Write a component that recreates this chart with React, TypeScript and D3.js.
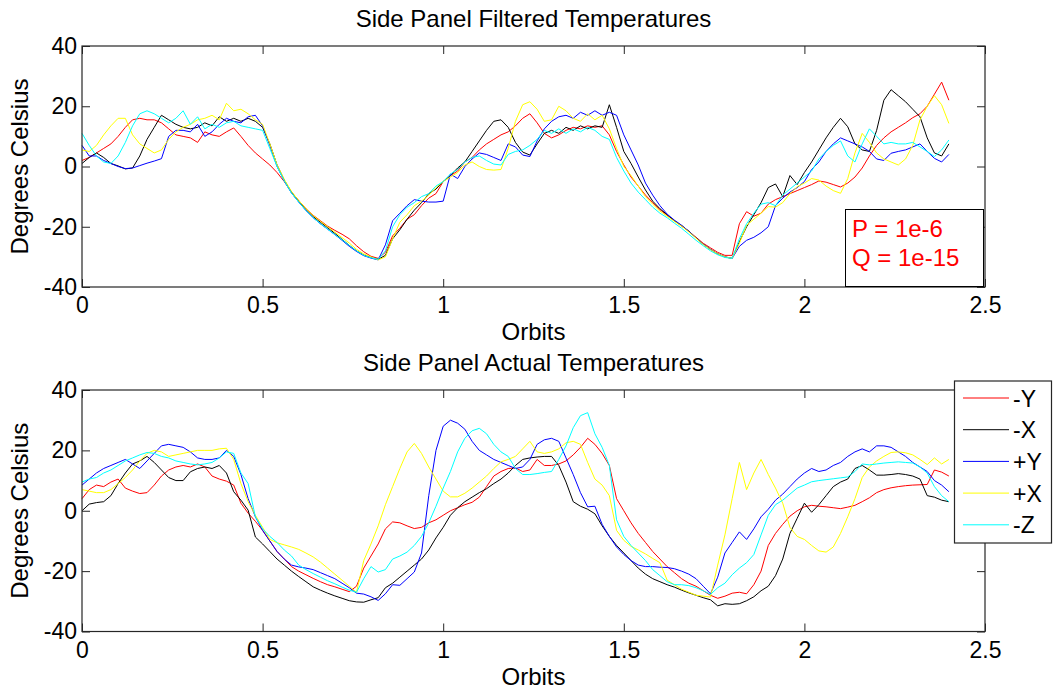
import React, { useEffect, useRef } from "react";
import * as d3 from "d3";

// orbit sample positions shared by every series (0 .. 2.4, step 0.02)
const orbits = d3.range(121).map((i) => +(i * 0.02).toFixed(2));

const seriesNames = ["-Y", "-X", "+Y", "+X", "-Z"];
const seriesColors = ["#ff0000", "#000000", "#0000ff", "#ffff00", "#00ffff"];
const xTicks = [0, 0.5, 1, 1.5, 2, 2.5];
const yTicks = [-40, -20, 0, 20, 40];

// --- top panel: filtered temperatures ---
const filteredNegY = [
  2, 3, 4.5, 6, 7.5, 10, 13, 15.5, 16, 15.5,
  15.5, 14.5, 12.5, 10.5, 10, 9.5, 8, 11.5, 10.5, 10,
  11.5, 12.8, 10, 7, 4.5, 2.5, 0.5, -2, -5, -8.5,
  -11.3, -14, -16.2, -18, -19.8, -21.2, -22.5, -24, -26.3, -28.3,
  -29.8, -30.5, -28.5, -23, -20.5, -17.5, -16, -13, -10.5, -9,
  -5, -3, -1.5, 1.5, 3, 5.5, 7.5, 9, 10.5, 11.5,
  13.5, 16, 17.5, 14.5, 11, 9.5, 10.5, 12, 13, 12.5,
  13.5, 13, 13.5, 10.5, 5, 0.5, -3.5, -6.5, -9.5, -12,
  -14.3, -16.2, -18, -19.8, -21.5, -23.5, -25.5, -27, -28.5, -29.5,
  -29.5, -19, -15, -16.5, -15.5, -12.5, -11, -10, -9, -8,
  -7, -6, -4.8, -5.2, -6, -6.8, -5.5, -3.5, -0.5, 3.5,
  7, 9.5, 11.5, 13, 14.5, 16.2, 17.5, 20, 24, 28,
  22,
];
const filteredNegX = [
  1, 3, 4.5, 3, 1, 0.2, -0.8, -0.5, 3.5, 9,
  13, 17, 15.5, 14, 13, 12.5, 13, 14.5, 13.5, 16.5,
  15, 16, 15, 16, 15, 13, 7.5, 0.5, -4.5, -8.5,
  -11.5, -14.3, -16.6, -18.5, -20.3, -22.2, -24.2, -26.2, -28, -29.4,
  -30.2, -30.8, -29.5, -24, -21, -17.5, -14.5, -12, -9, -7.5,
  -5, -3, -0.5, 1.5, 5, 8.5, 12, 15, 15.5, 13,
  8, 4.8, 3.8, 7.5, 11, 12, 11, 13, 12, 13.5,
  12.5, 13.5, 13, 20.5, 13, 5, 1, -3.5, -7.8, -11.5,
  -14, -16, -18, -19.6, -21.5, -23.7, -25.8, -27.5, -29, -30,
  -30.5, -25, -20, -16, -12, -7, -5.8, -10, -3, -6,
  -2, 1.5, 5.5, 9.5, 13, 16, 13.2, 7.5, 5.5, 5,
  12, 22, 25.5, 23.5, 21.5, 19, 16.5, 9.5, 4.5, 3.5,
  7.5,
];
const filteredPosY = [
  7, 3.5, 3.5, 2, 1, 0, -0.7, -0.5, 0.3, 1.1,
  1.8, 2.6, 10, 12, 12, 11.5, 14, 10, 11.5, 14,
  16, 15, 14.5, 16.5, 17, 13.5, 7, 0, -4.8, -8.8,
  -11.8, -14.6, -17, -19, -20.8, -22.6, -24.5, -26.5, -28.2, -29.6,
  -30.4, -31, -26, -18, -15.5, -13, -11, -11.5, -11.8, -11.8,
  -11.5, -2.5, -4, 0, 2.5, 4.5, 4, 3, 2, 7.5,
  6.5, 3.8, 3.3, 8.5, 12.5, 15, 16.5, 17, 16, 18,
  17, 18.5, 17, 18, 17, 10.5, 5.5, 0.5, -5.5, -9.5,
  -13, -15.8, -17.8, -19.5, -21.5, -23.7, -25.8, -27.5, -29, -30,
  -30.5, -26.5, -24.5, -23.5, -22, -20, -13, -10.5, -8.5, -7,
  -5, -1, 1.5, 5, 7.5, 9.5, 8.5, 7.5, 6.5, 5,
  2.5, 2, 4.4, 5, 5.5, 6.5, 7.5, 5, 2.7, 1.5,
  4,
];
const filteredPosX = [
  5.5, 5, 7, 10.5, 13.5, 16, 16, 10.5, 7.5, 6,
  4.5, 5.5, 9, 11.5, 13, 14, 15.5, 16, 17, 15.5,
  21, 18.5, 19, 17.5, 15.5, 14, 7.5, 0.5, -4.3, -8.3,
  -11.3, -14, -16.3, -18.2, -20, -21.8, -23.6, -25.4, -27.5, -29,
  -30, -31, -30, -24, -18.5, -16, -13, -11.5, -9.5, -7,
  -5, -3.5, -2, 0.5, 1.5, 0, -1, -1.2, -1, 6,
  15, 20.5, 21.5, 19, 15, 15.5, 20, 18.5, 16, 15,
  17.5, 15.5, 17, 12.5, 6, 0, -3, -6.5, -10, -12.5,
  -14.8, -16.5, -18.2, -19.8, -21.7, -23.8, -25.9, -27.6, -29, -30,
  -30.5, -25.5, -19.5, -17.5, -15.5, -13.3, -13.5, -12, -9, -6.7,
  -5.5, -4, -4.5, -6.5, -8, -8.9, -4, 4.5, 11, 8,
  4.5, 2.5, 1.5, 0.5, 2.5, 7, 15.5, 20, 23.5, 20.5,
  14.3,
];
const filteredNegZ = [
  11, 7, 3.5, 1.5, 1, 3.5, 8, 13.5, 17.5, 18.5,
  17.5, 16, 14.5, 16, 18.5, 14, 16.5, 12.5, 14, 13,
  14.5, 15, 13.5, 13, 12.5, 12, 6, 0, -4.8, -8.8,
  -11.8, -14.6, -17, -19, -20.8, -22.6, -24.3, -26.2, -28, -29.5,
  -30.3, -30.8, -28, -20, -16, -13.5, -12, -10, -9, -6.5,
  -5, -2.5, -1, 1.5, 3, 3.5, 2, 0.8, 0.5, 4,
  5, 5.5, 7, 9, 12, 11, 12.5, 11, 12.5, 11.5,
  13, 12, 10, 9, 3, -1.5, -5.5, -8.5, -11, -13.5,
  -15.5, -17, -18.8, -20.5, -22.5, -24.5, -26.3, -28, -29.3, -30.2,
  -30.5, -24, -19, -15.5, -12.5, -12, -13, -9.5, -7.5, -5.5,
  -3.5, -1.5, 2.5, 5, 7, 8.5, 3.5, 1.5, 7.5, 12.5,
  10, 7.5, 8, 7.5, 7.5, 8, 6.5, 5, 3.3, 5.5,
  8.8,
];

// --- bottom panel: actual temperatures ---
const actualNegY = [
  4, 7, 8.5, 8, 9.5, 10.5, 7.5, 6.5, 5.7, 6,
  8.5, 11.5, 13.5, 14.5, 15, 14.5, 15.5, 14.5, 11.5, 10.5,
  9.8, 8.5, 2.5, -0.8, -3.5, -6.5, -10, -13.5, -16, -18.5,
  -20, -21.2, -22.4, -23.5, -24.5, -25.2, -26, -26.8, -25, -19,
  -15, -11, -6, -3.7, -4, -5, -5.9, -5.5, -4, -3,
  -1.5, 0, 1, 2, 2.8, 4.5, 8, 11.5, 13, 14,
  14.2, 13, 13.5, 17, 15, 15, 15.5, 16.5, 18.5, 21,
  24, 22, 19, 15, 4, 0, -4, -7.5, -10.5, -13.5,
  -16, -18.5, -20.5, -22.5, -24, -25, -26.5, -28, -29, -28.3,
  -27.3, -27, -27.5, -24.5, -20, -11.5, -7.5, -4.5, -1.8, 0,
  1.3, 1.8, 1.5, 1.3, 1, 0.7, 1.2, 1.8, 3, 4.3,
  6, 7, 7.6, 8, 8.3, 8.5, 8.6, 8.7, 13.5, 12.8,
  11.5,
];
const actualNegX = [
  0, 2.2, 2.7, 3, 5, 9, 12.5, 15.5, 16.5, 18,
  16, 13.5, 11, 10, 10, 12.9, 14, 14.5, 14, 15,
  12.5, 6.3, 3.5, 0.2, -8.7, -11, -13.5, -16, -18, -20,
  -21.8, -23.5, -25.2, -26.3, -27.3, -28.2, -29, -29.8, -30.2, -30.3,
  -29.5, -28.8, -25.5, -24, -22, -20, -18, -16, -13, -9,
  -5.5, -1.5, 1, 3, 4.5, 6, 7.3, 9, 10.5, 12.5,
  15, 17, 17.5, 17.8, 18, 18, 15, 9.5, 3, 1.5,
  0.5, -1, -5, -8.5, -11.5, -14, -16.5, -19, -21, -22.5,
  -23.5, -24.5, -25.3, -26.3, -27.2, -28, -28.8, -29.5, -31.5, -30.8,
  -31, -30.8, -29.8, -28.5, -26.5, -25, -21.5, -16, -7.5, -2.5,
  2.5, -0.5, 2, 5, 8, 9.5, 10.5, 14, 15, 13.5,
  11.8, 11.8, 12, 12.3, 12, 11.5, 10.5, 5, 4.5, 3.5,
  3,
];
const actualPosY = [
  8.5, 10.5, 12.5, 14, 15, 16, 17, 15.5, 14, 16.5,
  19, 21.5, 22, 21.5, 21, 19.5, 17.5, 17, 17, 17.5,
  20, 18, 12, 4, -2, -6.5, -10, -13.5, -16, -18,
  -18.6, -19, -19.5, -20.5, -21.5, -22.5, -24, -25.5, -27.3, -27.6,
  -28.5, -29.7, -27.5, -24.5, -24.7, -22.5, -20.3, -14, 5, 20,
  28, 30, 29, 27, 23, 20, 18.5, 17, 16, 15,
  14, 14.5, 17, 22, 23.5, 24, 23, 17.5, 12, 6,
  1.3, 1.5, -4.5, -8.5, -12, -14.5, -16.5, -18, -18.5, -18.5,
  -18.7, -18.8, -19.2, -20, -21, -22.5, -25, -27.5, -22, -14,
  -10.5, -7, -9.5, -6, -2, 0.5, 3.5, 5.5, 8, 10.5,
  12.5, 14, 13, 13.5, 15, 16, 18, 19.5, 20.5, 19.5,
  21.5, 21.5, 21, 19.5, 18, 16, 14.5, 13, 10, 8.5,
  6.3,
];
const actualPosX = [
  7, 6.5, 6, 6, 7, 9, 11, 13.5, 16.5, 19,
  20, 19.5, 18, 18.5, 19, 19.5, 20, 20, 20, 20.5,
  20.7, 17, 9, 3, -1.5, -5.5, -9.5, -10.6, -11.3, -12,
  -12.8, -14, -15.3, -17, -19, -21, -23, -25, -27, -16.5,
  -11, -5, 2, 8, 14, 19.5, 22.3, 19, 14.5, 10.5,
  6.5, 4.6, 4.6, 5.8, 7.5, 9.5, 11.5, 14, 16.2, 17,
  18, 20.5, 23, 19.5, 19, 19.5, 20.5, 22.5, 23, 22,
  16, 10.5, 8.5, 5, -6.5, -9.8, -11.8, -13, -14.3, -15.8,
  -17.2, -23, -24.5, -26, -27, -28, -28.3, -28.6, -18, -8,
  4, 16, 7, 12.5, 17, 12, 7.5, 2.5, -5.5, -8.5,
  -9.5, -11.5, -13.3, -13.7, -12, -7.5, -2, 4, 11, 14.5,
  16.5, 18, 19.3, 19.5, 19.2, 18.5, 17, 15.3, 17.5, 15.5,
  17,
];
const actualNegZ = [
  9.5, 10.5, 11, 12.5, 13.5, 15, 16.5, 17.5, 18.5, 19.3,
  19, 18, 17.5, 16.5, 16, 15.5, 15.2, 15.5, 16, 17.5,
  19.5, 19, 12.5, 9, -2, -6, -8.5, -10.5, -13, -15,
  -18, -19.5, -20.8, -22, -23.2, -24.2, -25.3, -26.3, -27, -22.5,
  -18.5, -20.3, -19.5, -16, -15, -13.7, -11.5, -8.5, -4, 1.5,
  7.5, 13, 19.5, 24, 26.5, 27.3, 25.5, 22, 19.5, 18,
  14, 12, 12, 12.3, 12.7, 13, 17, 21.5, 27.5, 31.5,
  32.5, 25.5, 21, 15, -3, -8.5, -11.5, -14, -16.5, -19.5,
  -21.5, -23.5, -24.5, -24.5, -24.8, -25.5, -26.5, -27.7, -25.5, -24,
  -21.2, -19, -17.2, -14.5, -8, -1.5, 2, 3.5, 5.5, 7.5,
  8.5, 9.6, 10, 10.3, 10.6, 10.9, 11.2, 13, 15.5, 15.2,
  15.5, 15.8, 16, 16.2, 16, 15.8, 14.5, 12.5, 8, 5,
  3,
];

const filteredSeries = [filteredNegY, filteredNegX, filteredPosY, filteredPosX, filteredNegZ];
const actualSeries = [actualNegY, actualNegX, actualPosY, actualPosX, actualNegZ];

const W = 1054;
const H = 692;
const LEFT = 82;
const RIGHT = 985;
const FONT = "'Liberation Sans', Arial, Helvetica, sans-serif";
const AXIS_COLOR = "#262626";

const panels = [
  { title: "Side Panel Filtered Temperatures", top: 46, bottom: 287, series: filteredSeries },
  { title: "Side Panel Actual Temperatures", top: 390, bottom: 631.5, series: actualSeries },
];

export default function App() {
  const svgRef = useRef<SVGSVGElement>(null);

  useEffect(() => {
    const svg = d3.select(svgRef.current);
    svg.selectAll("*").remove();

    svg.append("rect").attr("width", W).attr("height", H).attr("fill", "#fff");

    const x = d3.scaleLinear().domain([0, 2.5]).range([LEFT, RIGHT]);

    panels.forEach((p) => {
      const y = d3.scaleLinear().domain([-40, 40]).range([p.bottom, p.top]);
      const g = svg.append("g");

      const line = d3
        .line<number>()
        .x((_, i) => x(orbits[i]))
        .y((d) => y(d));

      g.selectAll("path.series")
        .data(p.series)
        .join("path")
        .attr("class", "series")
        .attr("fill", "none")
        .attr("stroke", (_, i) => seriesColors[i])
        .attr("stroke-width", 1)
        .attr("stroke-linejoin", "round")
        .attr("d", (d) => line(d));

      // box round the axes
      g.append("rect")
        .attr("x", LEFT)
        .attr("y", p.top)
        .attr("width", RIGHT - LEFT)
        .attr("height", p.bottom - p.top)
        .attr("fill", "none")
        .attr("stroke", AXIS_COLOR)
        .attr("stroke-width", 1.2);

      const styleAxis = (a: any) => {
        a.select(".domain").remove();
        a.attr("color", AXIS_COLOR).attr("font-family", FONT).attr("font-size", 23);
        a.selectAll("text").attr("fill", "#000");
      };

      g.append("g")
        .attr("transform", `translate(0,${p.bottom})`)
        .call(
          d3.axisBottom(x).tickValues(xTicks).tickFormat((d) => String(d))
            .tickSizeInner(-8).tickSizeOuter(0).tickPadding(10)
        )
        .call(styleAxis);

      g.append("g")
        .attr("transform", `translate(0,${p.top})`)
        .call(d3.axisTop(x).tickValues(xTicks).tickFormat(() => "").tickSizeInner(-8).tickSizeOuter(0))
        .call(styleAxis);

      g.append("g")
        .attr("transform", `translate(${LEFT},0)`)
        .call(
          d3.axisLeft(y).tickValues(yTicks).tickFormat((d) => String(d))
            .tickSizeInner(-8).tickSizeOuter(0).tickPadding(5)
        )
        .call(styleAxis);

      g.append("g")
        .attr("transform", `translate(${RIGHT},0)`)
        .call(d3.axisRight(y).tickValues(yTicks).tickFormat(() => "").tickSizeInner(-8).tickSizeOuter(0))
        .call(styleAxis);

      const cx = (LEFT + RIGHT) / 2;
      g.append("text")
        .attr("x", cx)
        .attr("y", p.top - 19)
        .attr("text-anchor", "middle")
        .attr("font-family", FONT)
        .attr("font-size", 24)
        .text(p.title);

      g.append("text")
        .attr("x", cx)
        .attr("y", p.bottom + 53)
        .attr("text-anchor", "middle")
        .attr("font-family", FONT)
        .attr("font-size", 24)
        .text("Orbits");

      g.append("text")
        .attr("transform", `translate(28,${(p.top + p.bottom) / 2}) rotate(-90)`)
        .attr("text-anchor", "middle")
        .attr("font-family", FONT)
        .attr("font-size", 24)
        .text("Degrees Celsius");
    });

    // P / Q annotation in the top panel
    const note = svg.append("g");
    note.append("rect")
      .attr("x", 845.5).attr("y", 209.5).attr("width", 138).attr("height", 77)
      .attr("fill", "#fff").attr("stroke", "#000").attr("stroke-width", 1);
    ["P = 1e-6", "Q = 1e-15"].forEach((t, i) => {
      note.append("text")
        .attr("x", 852).attr("y", 237 + i * 28.5)
        .attr("font-family", FONT).attr("font-size", 24).attr("fill", "#ff0000")
        .text(t);
    });

    // legend
    const legend = svg.append("g");
    legend.append("rect")
      .attr("x", 954.5).attr("y", 381).attr("width", 97).attr("height", 162)
      .attr("fill", "#fff").attr("stroke", AXIS_COLOR).attr("stroke-width", 1.2);
    const rows = legend.selectAll("g.row").data(seriesNames).join("g")
      .attr("class", "row")
      .attr("transform", (_, i) => `translate(0,${398 + i * 31.7})`);
    rows.append("line")
      .attr("x1", 963).attr("x2", 1009).attr("y1", 0).attr("y2", 0)
      .attr("stroke", (_, i) => seriesColors[i]).attr("stroke-width", 1);
    rows.append("text")
      .attr("x", 1013).attr("y", 8.5)
      .attr("font-family", FONT).attr("font-size", 23)
      .text((d) => d);
  }, []);

  return (
    <svg
      ref={svgRef}
      width={W}
      height={H}
      style={{ position: "absolute", left: 0, top: 0, display: "block" }}
    />
  );
}
